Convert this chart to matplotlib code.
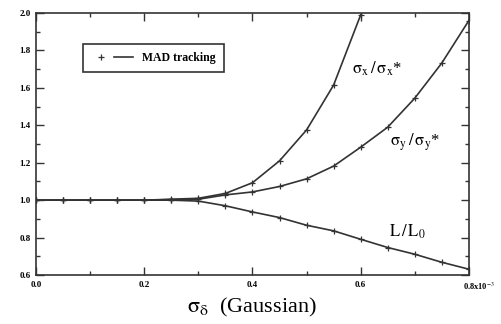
import matplotlib
matplotlib.use("Agg")
import matplotlib.pyplot as plt
import matplotlib.transforms as mtransforms
from matplotlib.lines import Line2D
from matplotlib.legend_handler import HandlerTuple
from matplotlib.ticker import MultipleLocator

plt.rcParams.update({
    "font.family": "Liberation Serif",
    "mathtext.fontset": "stix",
})

# sigma_delta (x 1e-3)
x = [0.0, 0.05, 0.10, 0.15, 0.20, 0.25, 0.30, 0.35, 0.40, 0.45, 0.50, 0.55, 0.60, 0.65, 0.70, 0.75, 0.80]
sx = [1.0, 1.0, 1.0, 1.0, 1.0, 1.005, 1.01, 1.036, 1.093, 1.21, 1.375, 1.615, 1.99]
sy = [1.0, 1.0, 1.0, 1.0, 1.0, 1.003, 1.005, 1.028, 1.044, 1.073, 1.114, 1.182, 1.283, 1.39, 1.545, 1.733, 1.96]
lum = [1.0, 1.0, 1.0, 1.0, 1.0, 1.0, 0.995, 0.970, 0.937, 0.907, 0.866, 0.836, 0.791, 0.747, 0.711, 0.668, 0.631]
xticks = [0.0, 0.2, 0.4, 0.6, 0.8]
xlabels = ["0.0", "0.2", "0.4", "0.6", r"0.8x10$^{-3}$"]
yticks = [0.6, 0.8, 1.0, 1.2, 1.4, 1.6, 1.8, 2.0]

col = "#333333"
fig = plt.figure(figsize=(5.01, 3.24), dpi=100)
ax = fig.add_axes([0.0719, 0.1512, 0.864, 0.8086])

kw = dict(color=col, lw=1.2, marker="+", ms=5, mew=0.9)
ax.plot(x[:len(sx)], sx, **kw)
ax.plot(x, sy, **kw)
ax.plot(x, lum, **kw)

ax.set_xlim(0, 0.8)
ax.set_ylim(0.6, 2.0)
ax.set_xticks(xticks, xlabels, fontweight="bold")
ax.set_yticks(yticks, [f"{v:.1f}" for v in yticks], fontweight="bold")
ax.xaxis.set_minor_locator(MultipleLocator(0.1))
ax.yaxis.set_minor_locator(MultipleLocator(0.1))
ax.tick_params(which="both", direction="in", top=True, right=True, width=1, color=col)
ax.tick_params(which="major", length=6, labelsize=6.5, pad=4)
ax.tick_params(which="minor", length=3)
last = ax.get_xticklabels()[-1]
last.set_horizontalalignment("left")
last.set_fontsize(6)
last.set_transform(last.get_transform() + mtransforms.ScaledTranslation(-6 / 100, 0, fig.dpi_scale_trans))
for s in ax.spines.values():
    s.set_linewidth(1.2)
    s.set_color(col)

ax.set_xlabel(r"$\mathrm{\sigma_\delta}$  (Gaussian)", fontsize=16, labelpad=3)

ax.text(0.63, 1.70, r"$\mathrm{\sigma_x\,/\,\sigma_x}$*", fontsize=12, ha="center", va="center")
ax.text(0.70, 1.31, r"$\mathrm{\sigma_y\,/\,\sigma_y}$*", fontsize=12, ha="center", va="center")
ax.text(0.687, 0.83, r"$\mathrm{L\,/\,L_0}$", fontsize=12, ha="center", va="center")

h_mark = Line2D([], [], ls="none", marker="+", ms=4, mew=0.9, color=col)
h_line = Line2D([], [], lw=1.2, color=col)
leg = ax.legend([(h_mark, h_line)], ["MAD tracking"], loc="upper left",
                bbox_to_anchor=(0.095, 0.905), prop={"size": 8.5, "weight": "bold"},
                frameon=True, fancybox=False, edgecolor=col, framealpha=1,
                handlelength=3.5, borderpad=0.7,
                handler_map={tuple: HandlerTuple(ndivide=2, pad=0.3)})
leg.get_frame().set_linewidth(1.2)

fig.savefig("out.png", dpi=100)
